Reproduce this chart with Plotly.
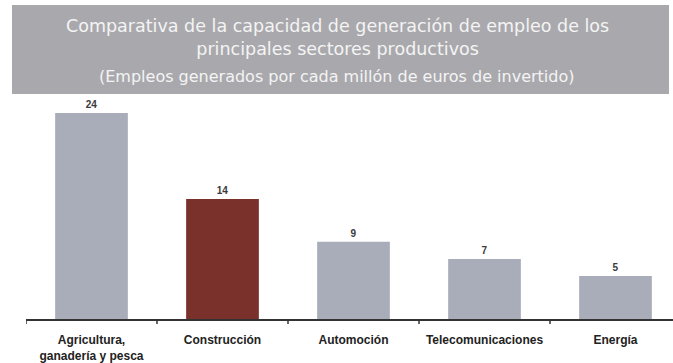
import plotly.graph_objects as go

# Sector data: jobs generated per million euros invested
sectores = ["Agricultura,<br>ganadería y pesca", "Construcción", "Automoción",
            "Telecomunicaciones", "Energía"]
empleos = [24, 14, 9, 7, 5]
colores = ["#a9adb9", "#7a302b", "#a9adb9", "#a9adb9", "#a9adb9"]

titulo = "Comparativa de la capacidad de generación de empleo de los<br>principales sectores productivos"
subtitulo = "(Empleos generados por cada millón de euros de invertido)"

W, H = 673, 363
ML, MR, MT, MB = 26, 0, 100, 44
PW, PH = W - ML - MR, H - MT - MB


def px_x(x):
    return (x - ML) / PW


def px_y(y):
    return (H - MB - y) / PH


fig = go.Figure(go.Bar(
    x=list(range(len(sectores))),
    y=empleos,
    marker=dict(color=colores, line=dict(width=0)),
    width=0.555,
    text=[f"<b>{v}</b>" for v in empleos],
    textposition="outside",
    textfont=dict(family="Liberation Sans", size=10, color="#3a3a3a"),
    cliponaxis=False,
))

fig.update_layout(
    width=W, height=H,
    margin=dict(l=ML, r=MR, t=MT, b=MB),
    paper_bgcolor="white",
    plot_bgcolor="white",
    showlegend=False,
    xaxis=dict(
        tickmode="array",
        tickvals=list(range(len(sectores))),
        ticktext=[f"<b>{s}</b>" for s in sectores],
        range=[-0.5, -0.5 + PW / 131.0],
        showgrid=False,
        zeroline=False,
        showline=True,
        linecolor="#333333",
        linewidth=1.5,
        ticks="",
        ticklabelstandoff=9,
        automargin=False,
        tickfont=dict(family="Liberation Sans", size=12, color="#222222"),
    ),
    yaxis=dict(
        range=[0, PH / 8.58],
        visible=False,
        showgrid=False,
        zeroline=False,
    ),
    shapes=[
        dict(type="rect", xref="paper", yref="paper",
             x0=px_x(12), x1=px_x(669), y0=px_y(94), y1=px_y(5),
             fillcolor="#a9a9ad", line=dict(width=0), layer="below"),
    ] + [
        # boundary ticks between categories
        dict(type="line", xref="x", yref="paper",
             x0=b - 0.5, x1=b - 0.5, y0=px_y(319), y1=px_y(324),
             line=dict(color="#333333", width=1.5))
        for b in range(len(sectores))
    ],
    annotations=[
        dict(text=titulo, xref="paper", yref="paper",
             x=px_x(337), y=px_y(38), xanchor="center", yanchor="middle",
             showarrow=False, align="center",
             font=dict(family="DejaVu Sans", size=17.5, color="#f4f4f4")),
        dict(text=subtitulo, xref="paper", yref="paper",
             x=px_x(337), y=px_y(76), xanchor="center", yanchor="middle",
             showarrow=False, align="center",
             font=dict(family="DejaVu Sans", size=16, color="#f4f4f4")),
    ],
)

fig.write_html("out.html")
